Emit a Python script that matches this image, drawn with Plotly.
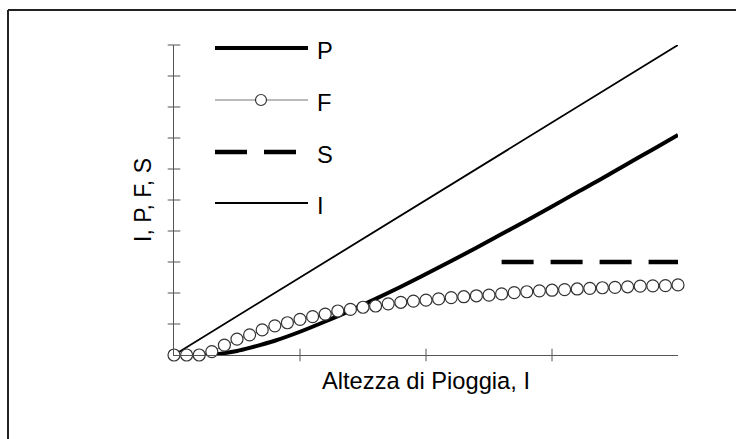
import plotly.graph_objects as go

# ---- data ----
I_x = [0.0, 4.0]
I_y = [0.0, 10.0]

P_x = [0.22, 0.3, 0.4, 0.5, 0.6, 0.8, 1.0, 1.2, 1.4, 1.6, 1.8, 2.0, 2.2, 2.4,
       2.6, 2.8, 3.0, 3.2, 3.4, 3.6, 3.8, 4.0]
P_y = [0.0, 0.012, 0.06, 0.13, 0.23, 0.46, 0.75, 1.08, 1.43, 1.81, 2.2, 2.61,
       3.03, 3.46, 3.9, 4.34, 4.79, 5.25, 5.7, 6.17, 6.63, 7.1]

F_x = [0.0, 0.1, 0.2, 0.3, 0.4, 0.5, 0.6, 0.7, 0.8, 0.9, 1.0, 1.1, 1.2, 1.3, 1.4,
       1.5, 1.6, 1.7, 1.8, 1.9, 2.0, 2.1, 2.2, 2.3, 2.4, 2.5, 2.6, 2.7, 2.8, 2.9,
       3.0, 3.1, 3.2, 3.3, 3.4, 3.5, 3.6, 3.7, 3.8, 3.9, 4.0]
F_y = [0.0, 0.0, 0.0, 0.11, 0.32, 0.51, 0.65, 0.81, 0.94, 1.04, 1.15, 1.24, 1.32,
       1.42, 1.47, 1.54, 1.58, 1.65, 1.70, 1.74, 1.77, 1.81, 1.85, 1.88, 1.91,
       1.93, 1.97, 2.01, 2.04, 2.07, 2.09, 2.11, 2.13, 2.15, 2.17, 2.18, 2.20,
       2.22, 2.23, 2.24, 2.26]

S_x = [2.6, 4.0]
S_y = [3.0, 3.0]

x_ticks = [1, 2, 3]
y_ticks = [1, 2, 3, 4, 5, 6, 7, 8, 9, 10]

legend_names = ["P", "F", "S", "I"]

FONT = "Liberation Sans, Arial, sans-serif"
FS = 23.7
AX = "#555555"

fig = go.Figure()
# crossing tick marks (drawn as markers centred on the axis lines)
fig.add_trace(go.Scatter(x=[0] * len(y_ticks), y=y_ticks, mode="markers",
                         cliponaxis=False, hoverinfo="skip", showlegend=False,
                         marker=dict(symbol="line-ew", size=9,
                                     line=dict(color=AX, width=1))))
fig.add_trace(go.Scatter(x=x_ticks, y=[0] * len(x_ticks), mode="markers",
                         cliponaxis=False, hoverinfo="skip", showlegend=False,
                         marker=dict(symbol="line-ns", size=9,
                                     line=dict(color=AX, width=1))))

fig.add_trace(go.Scatter(x=I_x, y=I_y, mode="lines", name="I",
                         line=dict(color="black", width=1.8), showlegend=False))
fig.add_trace(go.Scatter(x=P_x, y=P_y, mode="lines", name="P", line_shape="spline",
                         line=dict(color="black", width=4), showlegend=False))
fig.add_trace(go.Scatter(x=S_x, y=S_y, mode="lines", name="S",
                         line=dict(color="black", width=4.5, dash="32px,17px"),
                         showlegend=False))
fig.add_trace(go.Scatter(x=F_x, y=F_y, mode="lines+markers", name="F", cliponaxis=False,
                         line=dict(color="#777777", width=1),
                         marker=dict(symbol="circle", size=12, color="white",
                                     line=dict(color="#333333", width=1.2)),
                         showlegend=False))

W, H = 736, 439
L, R, T, B = 174, 58, 45, 84
pw, ph = W - L - R, H - T - B


def px2paper(px, py):
    return (px - L) / pw, 1 - (py - T) / ph


axis_common = dict(showgrid=False, zeroline=False, showticklabels=False,
                   ticks="", showline=True, linecolor=AX, linewidth=1)
fig.update_layout(
    width=W, height=H, margin=dict(l=L, r=R, t=T, b=B),
    paper_bgcolor="white", plot_bgcolor="white", showlegend=False,
    xaxis=dict(range=[0, 4],
               title=dict(text="Altezza di Pioggia, I", standoff=17,
                          font=dict(family=FONT, size=FS, color="black")),
               **axis_common),
    yaxis=dict(range=[0, 10],
               title=dict(text="I, P, F, S", standoff=14,
                          font=dict(family=FONT, size=FS - 0.7, color="black")),
               **axis_common),
)

shapes = []
# outer frame (open on the right and bottom as in the reference)
bx0, by1 = px2paper(8, 10)
shapes.append(dict(type="line", xref="paper", yref="paper", x0=bx0, x1=bx0,
                   y0=-1, y1=by1, line=dict(color="#222222", width=2)))
shapes.append(dict(type="line", xref="paper", yref="paper", x0=bx0, x1=2,
                   y0=by1, y1=by1, line=dict(color="#222222", width=2)))

# legend samples
rows_y = [48, 100, 152, 203]
styles = [dict(color="black", width=4), dict(color="#777777", width=1),
          dict(color="black", width=4.5, dash="32px,17px"), dict(color="black", width=1.8)]
for name, ry, st in zip(legend_names, rows_y, styles):
    x0, yy = px2paper(215, ry)
    x1, _ = px2paper(308 if name != "S" else 296, ry)
    shapes.append(dict(type="line", xref="paper", yref="paper", x0=x0, x1=x1,
                       y0=yy, y1=yy, line=st))
    tx, ty = px2paper(315, ry + 3)
    fig.add_annotation(x=tx, y=ty, xref="paper", yref="paper", text=name,
                       showarrow=False, xanchor="left", yanchor="middle",
                       font=dict(family=FONT, size=FS, color="black"))
# the F circle in the legend
cx0, cy0 = px2paper(255.5, 94.5)
cx1, cy1 = px2paper(266.5, 105.5)
shapes.append(dict(type="circle", xref="paper", yref="paper", x0=cx0, x1=cx1,
                   y0=cy1, y1=cy0, fillcolor="white",
                   line=dict(color="#333333", width=1.2)))

fig.update_layout(shapes=shapes)
fig.write_html("out.html")
